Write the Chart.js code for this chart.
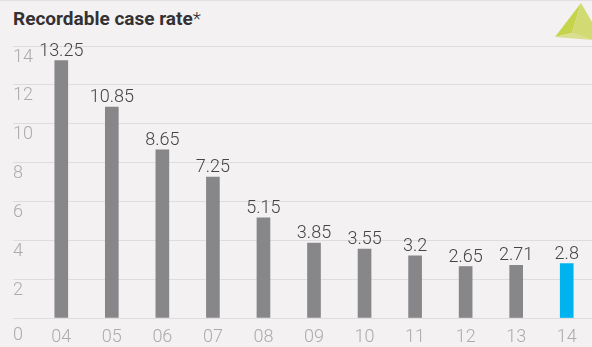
<!DOCTYPE html>
<html>
<head>
<meta charset="utf-8">
<script src="https://cdn.jsdelivr.net/npm/chart.js@4"></script>
<style>
  html, body { margin: 0; padding: 0; }
  body {
    width: 592px; height: 347px; overflow: hidden;
    background: #f3f1f2; position: relative;
    font-family: Roboto, "Noto Sans", sans-serif;
  }
  .topline { position: absolute; left: 0; top: 0; width: 592px; height: 1px; background: #e2e0e1; }
  .title {
    position: absolute; left: 13px; top: 7px; margin: 0;
    font-size: 19px; font-weight: 700; color: #333133; letter-spacing: 0;
  }
  .title span { font-weight: 300; }
  .mark { position: absolute; left: 0; top: 0; }
  #wrap { position: absolute; left: 0; top: 0; width: 592px; height: 347px; }
</style>
</head>
<body>
<div class="topline"></div>
<h1 class="title">Recordable case rate<span>*</span></h1>
<svg class="mark" width="592" height="50">
  <polygon points="581,3 555,37 572,33" fill="#c6d44c"/>
  <polygon points="581,3 572,33 592,40 592,22" fill="#d2da74"/>
  <polygon points="555,37 572,33 592,40" fill="#d9df8f"/>
</svg>
<div id="wrap"><canvas id="chart" width="592" height="347"></canvas></div>
<script>
const years = ['04', '05', '06', '07', '08', '09', '10', '11', '12', '13', '14'];
const rates = [13.25, 10.85, 8.65, 7.25, 5.15, 3.85, 3.55, 3.2, 2.65, 2.71, 2.8];
const yTicks = [0, 2, 4, 6, 8, 10, 12, 14];

const GREY = '#878689';
const BLUE = '#00b2ee';

// value text above every bar
const valueLabels = {
  id: 'valueLabels',
  afterDatasetsDraw(chart) {
    const ctx = chart.ctx;
    const meta = chart.getDatasetMeta(0);
    ctx.save();
    ctx.font = '300 18px Roboto';
    ctx.fillStyle = '#454446';
    ctx.textAlign = 'center';
    ctx.textBaseline = 'alphabetic';
    meta.data.forEach((bar, i) => {
      ctx.fillText(String(rates[i]), bar.x, bar.y - 5);
    });
    ctx.restore();
  }
};

new Chart(document.getElementById('chart'), {
  type: 'bar',
  data: {
    labels: years,
    datasets: [{
      data: rates,
      backgroundColor: years.map((y, i) => i === years.length - 1 ? BLUE : GREY),
      barThickness: 13,
      borderWidth: 0
    }]
  },
  options: {
    responsive: false,
    animation: false,
    layout: { padding: { left: 13, right: 0, top: 46, bottom: 0 } },
    plugins: {
      legend: { display: false },
      tooltip: { enabled: false }
    },
    scales: {
      x: {
        grid: { display: false, drawTicks: false },
        border: { display: false },
        ticks: {
          padding: 9,
          color: '#acabad',
          font: { family: 'Roboto', size: 18, weight: 300 }
        },
        afterFit(axis) { axis.height = 29; }
      },
      y: {
        min: 0,
        max: 14,
        afterBuildTicks(axis) { axis.ticks = yTicks.map(v => ({ value: v })); },
        grid: { color: '#dedcdd', lineWidth: 1, tickLength: 23 },
        border: { display: false },
        ticks: {
          crossAlign: 'far',
          labelOffset: 11,
          color: '#acabad',
          font: ctx => ({
            family: 'Roboto', size: 18, weight: 300,
            lineHeight: ctx.tick && ctx.tick.value === 0 ? 0.7 : 1.2
          }),
          callback: v => (v === 0 ? ['', '0'] : String(v))
        },
        afterFit(axis) { axis.width = 23; }
      }
    }
  },
  plugins: [valueLabels]
});
</script>
</body>
</html>
